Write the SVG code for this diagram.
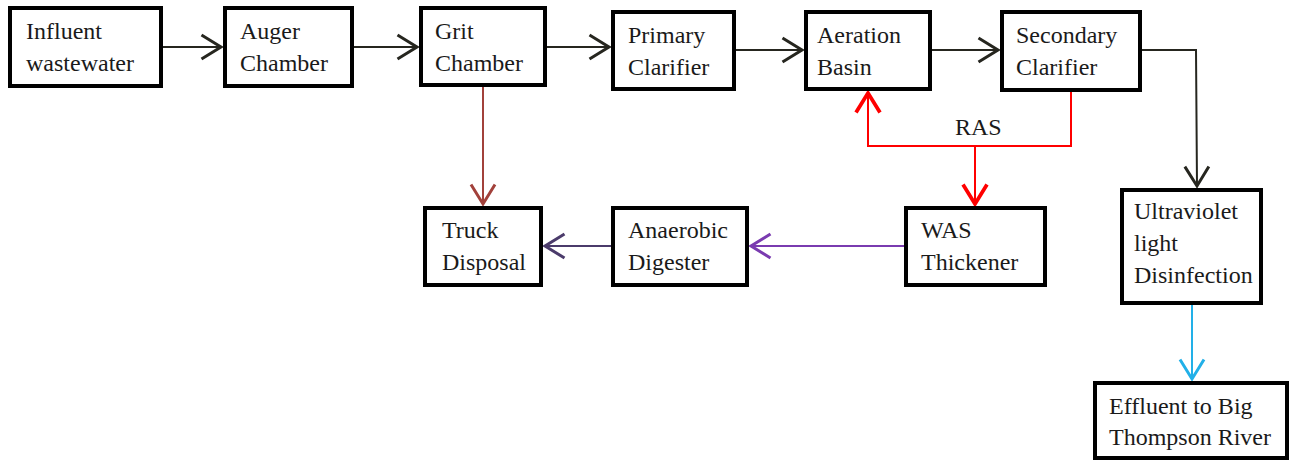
<svg xmlns="http://www.w3.org/2000/svg" width="1291" height="461" viewBox="0 0 1291 461">
<style>
.box{fill:#fff;stroke:#000;stroke-width:4}
.t{font-family:"Liberation Serif","Times New Roman",serif;font-size:24px;fill:#1a1a1a}
.c{fill:none;stroke-width:2}
</style>
<defs>
<marker id="aK" markerUnits="userSpaceOnUse" markerWidth="30" markerHeight="30" viewBox="-16 -10 20 20" refX="0" refY="0" orient="auto"><path d="M-13,-8 L0,0 L-13,8" fill="none" stroke="#26261f" stroke-width="2"/></marker>
<marker id="aR" markerUnits="userSpaceOnUse" markerWidth="30" markerHeight="30" viewBox="-16 -10 20 20" refX="0" refY="0" orient="auto"><path d="M-13,-8 L0,0 L-13,8" fill="none" stroke="#ff0000" stroke-width="2.5"/></marker>
<marker id="aB" markerUnits="userSpaceOnUse" markerWidth="30" markerHeight="30" viewBox="-16 -10 20 20" refX="0" refY="0" orient="auto"><path d="M-13,-8 L0,0 L-13,8" fill="none" stroke="#a2413b" stroke-width="2"/></marker>
<marker id="aP" markerUnits="userSpaceOnUse" markerWidth="30" markerHeight="30" viewBox="-16 -10 20 20" refX="0" refY="0" orient="auto"><path d="M-13,-8 L0,0 L-13,8" fill="none" stroke="#7a3bb0" stroke-width="2"/></marker>
<marker id="aD" markerUnits="userSpaceOnUse" markerWidth="30" markerHeight="30" viewBox="-16 -10 20 20" refX="0" refY="0" orient="auto"><path d="M-13,-8 L0,0 L-13,8" fill="none" stroke="#4b3b6b" stroke-width="2"/></marker>
<marker id="aC" markerUnits="userSpaceOnUse" markerWidth="30" markerHeight="30" viewBox="-16 -10 20 20" refX="0" refY="0" orient="auto"><path d="M-13,-8 L0,0 L-13,8" fill="none" stroke="#22b0e8" stroke-width="2"/></marker>
</defs>
<rect width="1291" height="461" fill="#fff"/>
<g id="connectors">
<path class="c" stroke="#26261f" d="M163,47 H221" marker-end="url(#aK)"/>
<path class="c" stroke="#26261f" d="M354,47 H417" marker-end="url(#aK)"/>
<path class="c" stroke="#26261f" d="M547,47 H609" marker-end="url(#aK)"/>
<path class="c" stroke="#26261f" d="M736,50 H802" marker-end="url(#aK)"/>
<path class="c" stroke="#26261f" d="M932,50 H998" marker-end="url(#aK)"/>
<path class="c" stroke="#26261f" d="M1142,50 H1196 L1197,186" marker-end="url(#aK)"/>
<path class="c" stroke="#a2413b" d="M483,87 V204" marker-end="url(#aB)"/>
<path class="c" stroke="#ff0000" stroke-width="2.5" d="M1071,92 V146 H868 V93" marker-end="url(#aR)"/>
<path class="c" stroke="#ff0000" stroke-width="2.5" d="M975,146 V204" marker-end="url(#aR)"/>
<path class="c" stroke="#7a3bb0" d="M904,246 H751" marker-end="url(#aP)"/>
<path class="c" stroke="#4b3b6b" d="M611,246 H545" marker-end="url(#aD)"/>
<path class="c" stroke="#22b0e8" d="M1192,305 V379" marker-end="url(#aC)"/>
<text class="t" x="955" y="135">RAS</text>
</g>
<g id="influent"><rect class="box" x="10" y="8" width="151" height="78"/><text class="t" x="26" y="39">Influent</text><text class="t" x="26" y="71">wastewater</text></g>
<g id="auger"><rect class="box" x="225" y="8" width="127" height="78"/><text class="t" x="240" y="39">Auger</text><text class="t" x="240" y="71">Chamber</text></g>
<g id="grit"><rect class="box" x="421" y="8" width="124" height="77"/><text class="t" x="435" y="39">Grit</text><text class="t" x="435" y="71">Chamber</text></g>
<g id="primary"><rect class="box" x="613" y="12" width="121" height="77"/><text class="t" x="628" y="43">Primary</text><text class="t" x="628" y="75">Clarifier</text></g>
<g id="aeration"><rect class="box" x="806" y="12" width="124" height="77"/><text class="t" x="817" y="43">Aeration</text><text class="t" x="817" y="75">Basin</text></g>
<g id="secondary"><rect class="box" x="1002" y="12" width="138" height="78"/><text class="t" x="1016" y="43">Secondary</text><text class="t" x="1016" y="75">Clarifier</text></g>
<g id="uv"><rect class="box" x="1122" y="190" width="139" height="113"/><text class="t" x="1134" y="219">Ultraviolet</text><text class="t" x="1134" y="251">light</text><text class="t" x="1134" y="283">Disinfection</text></g>
<g id="effluent"><rect class="box" x="1095" y="383" width="192" height="75"/><text class="t" x="1109" y="414">Effluent to Big</text><text class="t" x="1109" y="445">Thompson River</text></g>
<g id="truck"><rect class="box" x="425" y="208" width="116" height="77"/><text class="t" x="442" y="238">Truck</text><text class="t" x="442" y="270">Disposal</text></g>
<g id="anaerobic"><rect class="box" x="613" y="208" width="134" height="77"/><text class="t" x="628" y="238">Anaerobic</text><text class="t" x="628" y="270">Digester</text></g>
<g id="was"><rect class="box" x="906" y="208" width="139" height="77"/><text class="t" x="921" y="238">WAS</text><text class="t" x="921" y="270">Thickener</text></g>
</svg>
